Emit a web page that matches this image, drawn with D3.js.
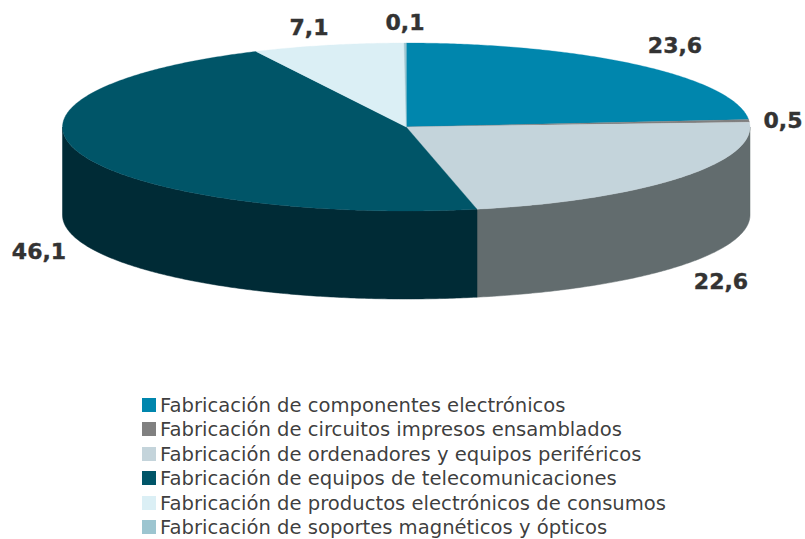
<!DOCTYPE html>
<html>
<head>
<meta charset="utf-8">
<script src="https://cdnjs.cloudflare.com/ajax/libs/d3/7.8.5/d3.min.js"></script>
<style>
  html, body { margin: 0; padding: 0; background: #fff; }
  svg { display: block; }
  text { font-family: "DejaVu Sans", sans-serif; fill: #333; }
</style>
</head>
<body>
<div class="chart"></div>
<script>
// values
const categories = [
  "Fabricación de componentes electrónicos",
  "Fabricación de circuitos impresos ensamblados",
  "Fabricación de ordenadores y equipos periféricos",
  "Fabricación de equipos de telecomunicaciones",
  "Fabricación de productos electrónicos de consumos",
  "Fabricación de soportes magnéticos y ópticos",
];
const values = [23.6, 0.5, 22.6, 46.1, 7.1, 0.1];
const labels = ["23,6", "0,5", "22,6", "46,1", "7,1", "0,1"];

const topColors = ["#0086ad", "#808080", "#c4d4db", "#005568", "#dbeff5", "#9cc5d0"];
const sideColors = ["#00586f", "#555555", "#626c6e", "#002b36", "#8f9ea3", "#64858e"];

const WIDTH = 805;
const HEIGHT = 539;
const DEPTH = 88;

// label centres, placed by hand like the original
const LABEL_POS = [[675, 45], [783, 120], [721, 281], [39, 251], [309, 27], [405, 22]];

const xScale = d3.scaleLinear().domain([-1, 1]).range([62.5, 750]);
const yScale = d3.scaleLinear().domain([-1, 1]).range([43, 211]);
const legendScale = d3.scaleBand().domain(categories).range([391.5, 539]);

const pie = d3.pie().sort(null).value(d => d)(values);

const px = a => xScale(Math.sin(a));
const py = a => yScale(-Math.cos(a));

// walks the rim of the ellipse between two angles
function rim(a0, a1) {
  const n = Math.max(2, Math.ceil(Math.abs(a1 - a0) / 0.01));
  return d3.range(n + 1).map(i => a0 + ((a1 - a0) * i) / n);
}

const line = d3.line();

function topPath(d) {
  const pts = rim(d.startAngle, d.endAngle).map(a => [px(a), py(a)]);
  return line([[xScale(0), yScale(0)], ...pts]) + "Z";
}

function sidePath(d) {
  // only the front half of the wall can be seen
  const a0 = Math.max(d.startAngle, Math.PI / 2);
  const a1 = Math.min(d.endAngle, (3 * Math.PI) / 2);
  if (a1 <= a0) return null;
  const angles = rim(a0, a1);
  const upper = angles.map(a => [px(a), py(a)]);
  const lower = angles.slice().reverse().map(a => [px(a), py(a) + DEPTH]);
  return line([...upper, ...lower]) + "Z";
}

const svg = d3
  .select(".chart")
  .append("svg")
  .attr("width", WIDTH)
  .attr("height", HEIGHT);

svg
  .append("g")
  .selectAll("path")
  .data(pie.filter(d => sidePath(d)))
  .join("path")
  .attr("d", sidePath)
  .attr("fill", d => sideColors[d.index])
  .attr("stroke", d => sideColors[d.index])
  .attr("stroke-width", 0.5);

svg
  .append("g")
  .selectAll("path")
  .data(pie)
  .join("path")
  .attr("d", topPath)
  .attr("fill", d => topColors[d.index])
  .attr("stroke", d => topColors[d.index])
  .attr("stroke-width", 0.3);

svg
  .append("g")
  .selectAll("text")
  .data(labels)
  .join("text")
  .attr("x", (d, i) => LABEL_POS[i][0])
  .attr("y", (d, i) => LABEL_POS[i][1])
  .attr("text-anchor", "middle")
  .attr("dominant-baseline", "central")
  .attr("font-size", 22)
  .attr("font-weight", "bold")
  .attr("stroke", "#333")
  .attr("stroke-width", 0.4)
  .text(d => d);

const legendRow = svg
  .append("g")
  .selectAll("g")
  .data(categories)
  .join("g")
  .attr("transform", d => `translate(142, ${Math.round(legendScale(d))})`);

legendRow
  .append("rect")
  .attr("y", 6)
  .attr("width", 14)
  .attr("height", 14)
  .attr("fill", (d, i) => topColors[i]);

legendRow
  .append("text")
  .attr("x", 18)
  .attr("y", 13)
  .attr("dominant-baseline", "central")
  .attr("font-size", 19.6)
  .attr("fill-opacity", 0.95)
  .text(d => d);
</script>
</body>
</html>
